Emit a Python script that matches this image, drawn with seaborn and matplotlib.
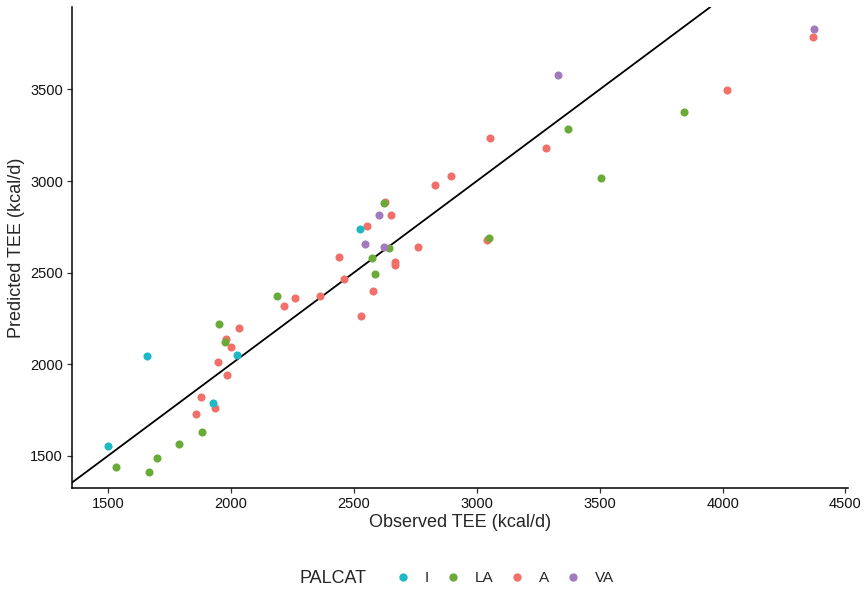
import matplotlib.pyplot as plt
import seaborn as sns
import pandas as pd
from matplotlib.lines import Line2D

# observed / predicted TEE (kcal/d) per activity category
i_obs = [1500, 1659, 1927, 2025, 2526]
i_pred = [1555, 2044, 1786, 2049, 2736]

la_obs = [1533, 1667, 1700, 1789, 1883, 1952, 1976, 2188, 2575, 2587,
          2624, 2644, 3051, 3373, 3507, 3845]
la_pred = [1440, 1412, 1489, 1566, 1632, 2220, 2121, 2374, 2582, 2495,
           2879, 2637, 2687, 3286, 3016, 3379]

a_obs = [2032, 1978, 2001, 1946, 1984, 1876, 1857, 1933, 2217, 2260,
         2363, 2440, 2459, 2529, 2578, 2553, 2628, 2650, 2667, 2667,
         2761, 2832, 3053, 2896, 3042, 3283, 4016, 4366]
a_pred = [2196, 2137, 2092, 2011, 1938, 1820, 1729, 1758, 2317, 2361,
          2374, 2586, 2463, 2265, 2400, 2753, 2886, 2813, 2560, 2542,
          2641, 2976, 3236, 3029, 2678, 3180, 3498, 3786]

va_obs = [2602, 2545, 2621, 3331, 4370]
va_pred = [2812, 2656, 2639, 3581, 3832]

categories = ['I', 'LA', 'A', 'VA']
palette = {'I': '#1FB9C6', 'LA': '#6AAB38', 'A': '#F1706A', 'VA': '#A17BBE'}

df = pd.DataFrame({
    'observed': i_obs + la_obs + a_obs + va_obs,
    'predicted': i_pred + la_pred + a_pred + va_pred,
    'PALCAT': ['I'] * len(i_obs) + ['LA'] * len(la_obs)
              + ['A'] * len(a_obs) + ['VA'] * len(va_obs),
})

sns.set_style('white')
plt.rcParams['font.family'] = ['Liberation Sans', 'DejaVu Sans']

fig = plt.figure(figsize=(8.67, 5.9), dpi=100)
ax = fig.add_axes([0.083, 0.173, 0.895, 0.815])

# draw A first so the other groups sit on top like the reference
for cat in ['A', 'LA', 'I', 'VA']:
    sub = df[df['PALCAT'] == cat]
    sns.scatterplot(data=sub, x='observed', y='predicted', color=palette[cat],
                    s=34, linewidth=0, ax=ax, legend=False, zorder=3)

ax.axline((0, 0), slope=1, color='black', linewidth=1.3, zorder=2)

ax.set_xlim(1353, 4510)
ax.set_ylim(1324, 3950)
ax.set_xticks([1500, 2000, 2500, 3000, 3500, 4000, 4500])
ax.set_yticks([1500, 2000, 2500, 3000, 3500])
ax.set_xlabel('Observed TEE (kcal/d)', fontsize=13, labelpad=2)
ax.set_ylabel('Predicted TEE (kcal/d)', fontsize=13, labelpad=4)
ax.tick_params(axis='both', labelsize=10.5, length=3.5, width=0.9,
               color='#333333', labelcolor='#111111', direction='out',
               bottom=True, left=True, pad=3)
for side in ['top', 'right']:
    ax.spines[side].set_visible(False)
for side in ['left', 'bottom']:
    ax.spines[side].set_color('black')
    ax.spines[side].set_linewidth(1.1)

handles = [Line2D([0], [0], marker='o', linestyle='', markersize=6,
                  markerfacecolor=palette[c], markeredgewidth=0) for c in categories]
fig.text(0.345, 0.02, 'PALCAT', fontsize=13, va='center', ha='left')
fig.legend(handles, categories, ncol=4, loc='center left', bbox_to_anchor=(0.44, 0.02),
           frameon=False, fontsize=11, handletextpad=0.9, columnspacing=1.1,
           handlelength=1.0)

fig.savefig('out.png', dpi=100)
